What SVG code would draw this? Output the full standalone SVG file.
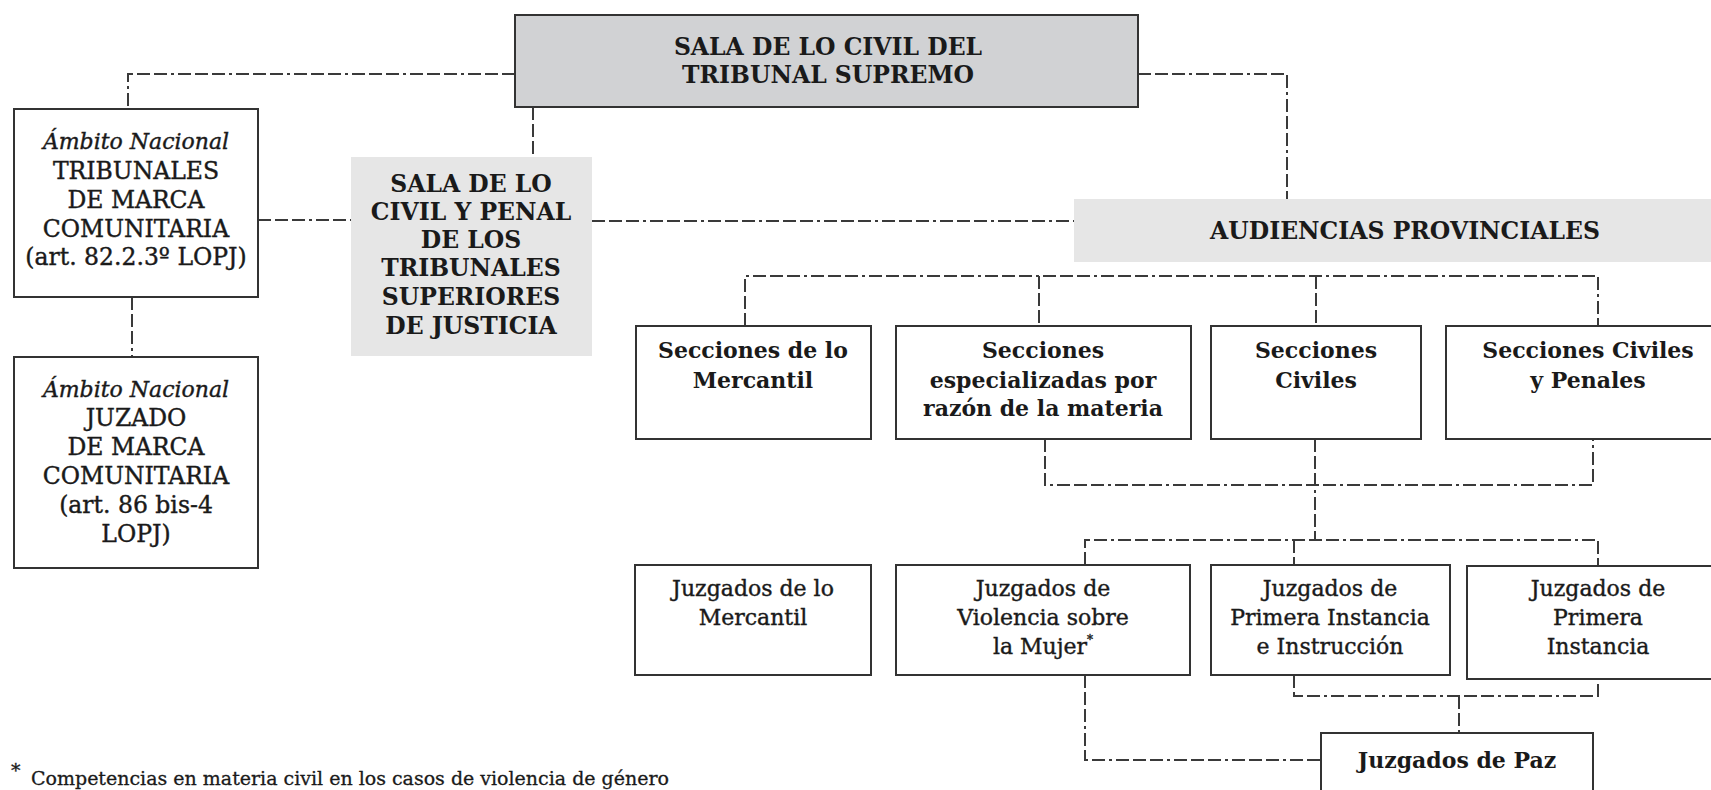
<svg xmlns="http://www.w3.org/2000/svg" width="1711" height="790" viewBox="0 0 1711 790">
<style>
.box{fill:#fff;stroke:#333;stroke-width:2}
.gray{fill:#d1d2d4;stroke:#333;stroke-width:2}
.light{fill:#e6e6e6}
.t{font-family:"DejaVu Serif","Liberation Serif",serif;font-size:22px;fill:#1a1a1a;text-anchor:middle}
.r{stroke:#1a1a1a;stroke-width:0.4}
.c{font-size:23.5px}
.b{font-weight:bold}
.i{font-style:italic}
.fn{font-family:"DejaVu Serif","Liberation Serif",serif;font-size:19px;fill:#1a1a1a;stroke:#1a1a1a;stroke-width:0.3}
.conn{fill:none;stroke:#3a3a3a;stroke-width:2;stroke-dasharray:13 4 13 4 13 4 3 4}
</style>
<rect width="1711" height="790" fill="#fff"/>
<g id="connectors">
<path class="conn" d="M515,74 H128 V109"/>
<path class="conn" d="M1138,74 H1287 V199"/>
<path class="conn" d="M533,107 V157"/>
<path class="conn" d="M132,297 V357"/>
<path class="conn" d="M258,220 H351"/>
<path class="conn" d="M592,221 H1074"/>
<path class="conn" d="M745,326 V276 H1598 V326"/>
<path class="conn" d="M1039,276 V326"/>
<path class="conn" d="M1316,276 V326"/>
<path class="conn" d="M1045,439 V485 H1593 V439"/>
<path class="conn" d="M1315,439 V540"/>
<path class="conn" d="M1085,565 V540 H1598 V566"/>
<path class="conn" d="M1294,540 V565"/>
<path class="conn" d="M1085,675 V760 H1321"/>
<path class="conn" d="M1294,675 V696 H1598 V679"/>
<path class="conn" d="M1459,696 V733"/>
</g>
<g id="n-supremo">
<rect class="gray" x="515" y="15" width="623" height="92"/>
<text class="t b c" x="828" y="55">SALA DE LO CIVIL DEL</text>
<text class="t b c" x="828" y="83">TRIBUNAL SUPREMO</text>
</g>
<g id="n-tribunales-marca">
<rect class="box" x="14" y="109" width="244" height="188"/>
<text class="t i r" x="136" y="149">Ámbito Nacional</text>
<text class="t r c" x="136" y="179">TRIBUNALES</text>
<text class="t r c" x="136" y="208">DE MARCA</text>
<text class="t r c" x="136" y="237">COMUNITARIA</text>
<text class="t r c" x="136" y="265">(art. 82.2.3º LOPJ)</text>
</g>
<g id="n-juzgado-marca">
<rect class="box" x="14" y="357" width="244" height="211"/>
<text class="t i r" x="136" y="397">Ámbito Nacional</text>
<text class="t r c" x="136" y="426">JUZADO</text>
<text class="t r c" x="136" y="455">DE MARCA</text>
<text class="t r c" x="136" y="484">COMUNITARIA</text>
<text class="t r c" x="136" y="513">(art. 86 bis-4</text>
<text class="t r c" x="136" y="542">LOPJ)</text>
</g>
<g id="n-tsj">
<rect class="light" x="351" y="157" width="241" height="199"/>
<text class="t b c" x="471" y="192">SALA DE LO</text>
<text class="t b c" x="471" y="220">CIVIL Y PENAL</text>
<text class="t b c" x="471" y="248">DE LOS</text>
<text class="t b c" x="471" y="276">TRIBUNALES</text>
<text class="t b c" x="471" y="305">SUPERIORES</text>
<text class="t b c" x="471" y="334">DE JUSTICIA</text>
</g>
<g id="n-audiencias">
<rect class="light" x="1074" y="199" width="650" height="63"/>
<text class="t b c" x="1405" y="239">AUDIENCIAS PROVINCIALES</text>
</g>
<g id="n-sec-mercantil">
<rect class="box" x="636" y="326" width="235" height="113"/>
<text class="t b" x="753" y="358">Secciones de lo</text>
<text class="t b" x="753" y="388">Mercantil</text>
</g>
<g id="n-sec-especializadas">
<rect class="box" x="896" y="326" width="295" height="113"/>
<text class="t b" x="1043" y="358">Secciones</text>
<text class="t b" x="1043" y="388">especializadas por</text>
<text class="t b" x="1043" y="416">razón de la materia</text>
</g>
<g id="n-sec-civiles">
<rect class="box" x="1211" y="326" width="210" height="113"/>
<text class="t b" x="1316" y="358">Secciones</text>
<text class="t b" x="1316" y="388">Civiles</text>
</g>
<g id="n-sec-civiles-penales">
<rect class="box" x="1446" y="326" width="290" height="113"/>
<text class="t b" x="1588" y="358">Secciones Civiles</text>
<text class="t b" x="1588" y="388">y Penales</text>
</g>
<g id="n-juz-mercantil">
<rect class="box" x="635" y="565" width="236" height="110"/>
<text class="t r" x="753" y="596">Juzgados de lo</text>
<text class="t r" x="753" y="625">Mercantil</text>
</g>
<g id="n-juz-violencia">
<rect class="box" x="896" y="565" width="294" height="110"/>
<text class="t r" x="1043" y="596">Juzgados de</text>
<text class="t r" x="1043" y="625">Violencia sobre</text>
<text class="t r" x="1043" y="654">la Mujer<tspan font-size="12" dy="-10">*</tspan></text>
</g>
<g id="n-juz-pii">
<rect class="box" x="1211" y="565" width="239" height="110"/>
<text class="t r" x="1330" y="596">Juzgados de</text>
<text class="t r" x="1330" y="625">Primera Instancia</text>
<text class="t r" x="1330" y="654">e Instrucción</text>
</g>
<g id="n-juz-pi">
<rect class="box" x="1467" y="566" width="270" height="113"/>
<text class="t r" x="1598" y="596">Juzgados de</text>
<text class="t r" x="1598" y="625">Primera</text>
<text class="t r" x="1598" y="654">Instancia</text>
</g>
<g id="n-juz-paz">
<rect class="box" x="1321" y="733" width="272" height="80"/>
<text class="t b" x="1457" y="768">Juzgados de Paz</text>
</g>
<g id="footnote">
<text class="fn" x="11" y="777" font-size="13">*</text>
<text class="fn" x="31" y="785" textLength="638" lengthAdjust="spacingAndGlyphs">Competencias en materia civil en los casos de violencia de género</text>
</g>
</svg>
